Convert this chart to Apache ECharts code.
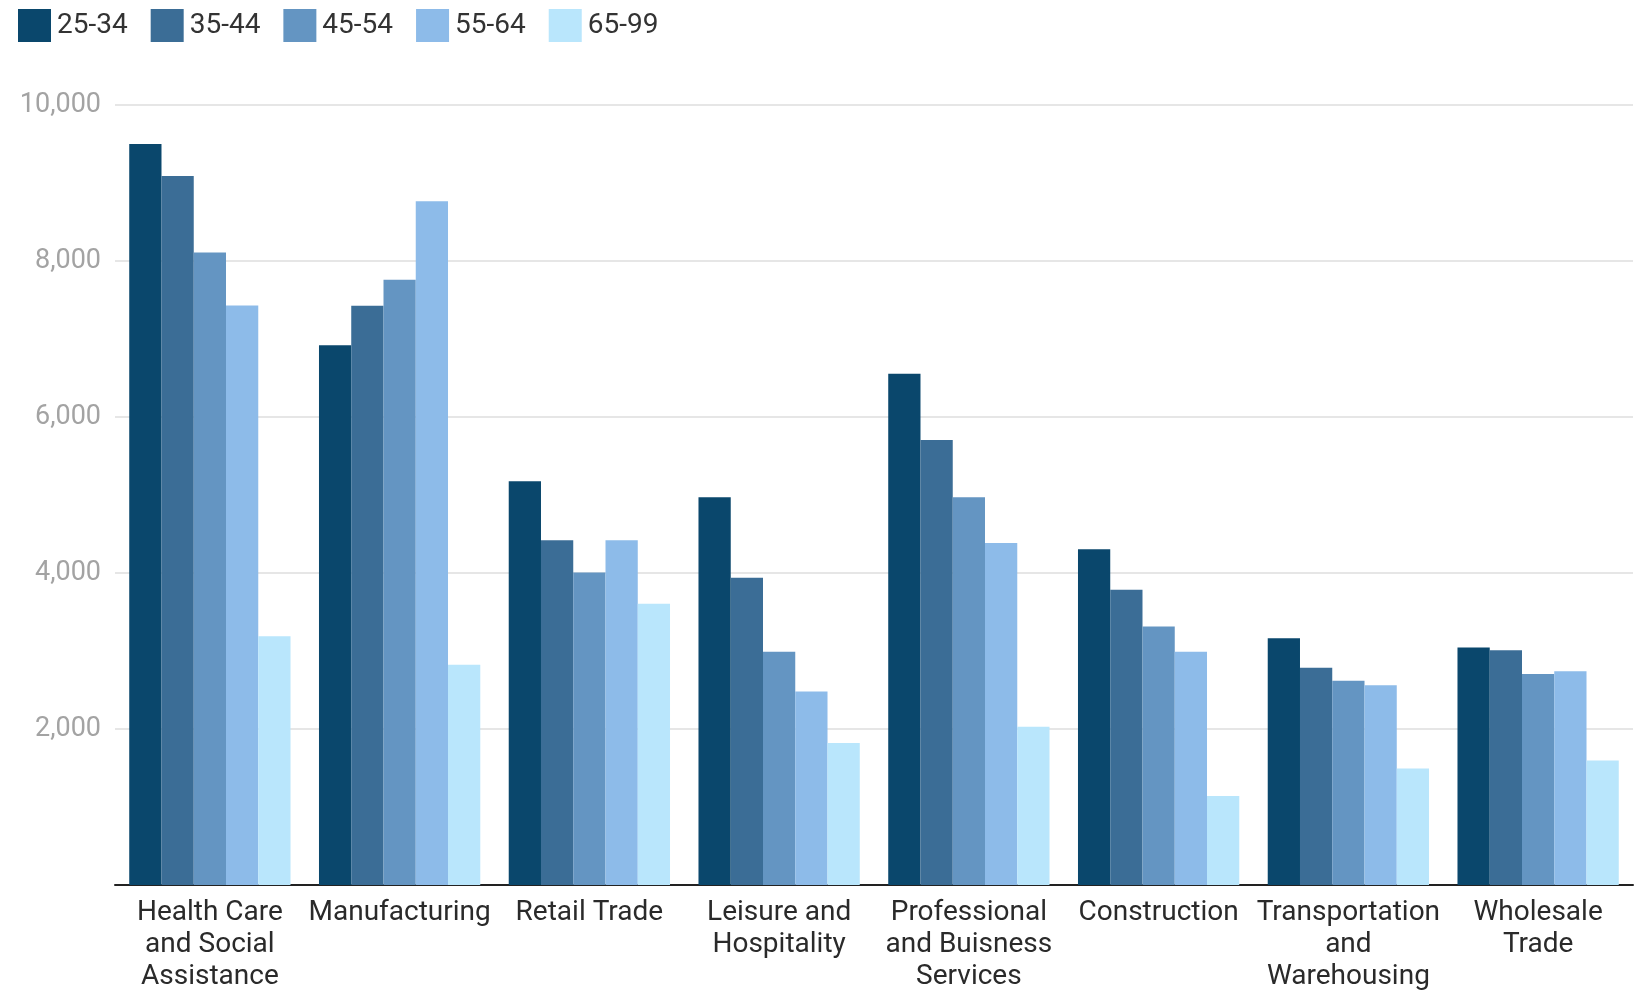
<!DOCTYPE html>
<html>
<head>
<meta charset="utf-8">
<style>
  html, body { margin: 0; padding: 0; background: #ffffff; }
  #chart { width: 1639px; height: 993px; }
</style>
<script src="https://cdn.jsdelivr.net/npm/echarts@6/dist/echarts.min.js"></script>
</head>
<body>
<div id="chart"></div>
<script>
// Industries shown along the x axis
const industries = [
  'Health Care\nand Social\nAssistance',
  'Manufacturing',
  'Retail Trade',
  'Leisure and\nHospitality',
  'Professional\nand Buisness\nServices',
  'Construction',
  'Transportation\nand\nWarehousing',
  'Wholesale\nTrade'
];

// Age groups (one bar series each)
const ageGroups = ['25-34', '35-44', '45-54', '55-64', '65-99'];

// Workers per age group, in industry order
const age25to34 = [9500, 6920, 5175, 4970, 6555, 4305, 3165, 3045];
const age35to44 = [9090, 7425, 4420, 3940, 5705, 3785, 2785, 3010];
const age45to54 = [8110, 7760, 4005, 2990, 4970, 3315, 2620, 2705];
const age55to64 = [7430, 8765, 4420, 2480, 4385, 2990, 2560, 2740];
const age65to99 = [3190, 2825, 3605, 1820, 2030, 1140, 1495, 1595];

// Y axis ticks
const yTicks = { min: 0, max: 10000, interval: 2000 };

const palette = ['#0a476c', '#3b6d96', '#6495c2', '#8dbbe9', '#b9e6fc'];
const seriesValues = [age25to34, age35to44, age45to54, age55to64, age65to99];

const chart = echarts.init(document.getElementById('chart'), null, { renderer: 'canvas' });

chart.setOption({
  animation: false,
  backgroundColor: '#ffffff',
  color: palette,
  textStyle: { fontFamily: 'Roboto' },
  legend: {
    data: ageGroups,
    left: 13,
    top: 4,
    itemWidth: 33,
    itemHeight: 33,
    itemGap: 23,
    icon: 'rect',
    textStyle: { fontSize: 28, color: '#333333', fontFamily: 'Roboto', padding: [0, 0, 0, 1] }
  },
  grid: {
    left: 115,
    right: 6,
    top: 105,
    bottom: 108,
    containLabel: false
  },
  xAxis: {
    type: 'category',
    data: industries,
    axisTick: { show: false },
    axisLine: { show: true, lineStyle: { color: '#222222', width: 2 } },
    axisLabel: {
      interval: 0,
      margin: 12,
      fontSize: 28,
      lineHeight: 32,
      color: '#2a2a2a',
      fontFamily: 'Roboto',
      align: 'center'
    }
  },
  yAxis: {
    type: 'value',
    min: yTicks.min,
    max: yTicks.max,
    interval: yTicks.interval,
    axisLine: { show: false },
    axisTick: { show: false },
    splitLine: { show: true, lineStyle: { color: '#e6e6e6', width: 2 } },
    axisLabel: {
      showMinLabel: false,
      margin: 14,
      fontSize: 27,
      color: '#a3a3a3',
      fontFamily: 'Roboto',
      formatter: v => v.toLocaleString('en-US')
    }
  },
  series: ageGroups.map((name, i) => ({
    name: name,
    type: 'bar',
    data: seriesValues[i],
    barGap: '0%',
    barCategoryGap: '15%',
    itemStyle: { color: palette[i] }
  }))
});
</script>
</body>
</html>
